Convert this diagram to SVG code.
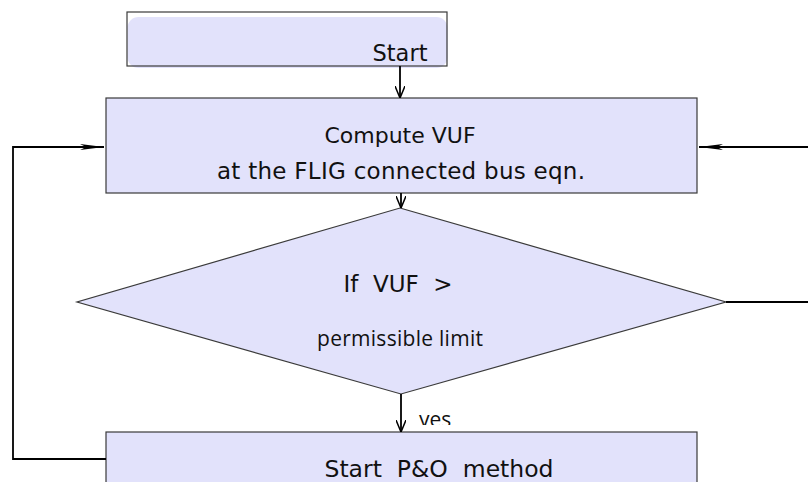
<svg xmlns="http://www.w3.org/2000/svg" width="808" height="482" viewBox="0 0 808 482">
<defs>
<style>
.box{fill:#e2e2fb;stroke:#3a3a3a;stroke-width:1.2}
.t{font-family:"DejaVu Sans",sans-serif;font-size:23px;fill:#111;text-anchor:middle}
.t2{font-family:"Open Sans","Liberation Sans",sans-serif;font-size:21px;fill:#111;text-anchor:middle}
.c{fill:none;stroke:#000;stroke-width:1.8}
</style>
<marker id="ah" viewBox="0 0 12 10" refX="12" refY="5" markerWidth="12" markerHeight="10" markerUnits="userSpaceOnUse" orient="auto">
<path d="M0,0 L12,5 L0,10" fill="none" stroke="#000" stroke-width="1.5"/>
</marker>
<marker id="ahh" viewBox="0 0 24 8" refX="24" refY="4" markerWidth="24" markerHeight="8" markerUnits="userSpaceOnUse" orient="auto">
<path d="M0,1 L24,4 L0,7 L6,4 Z" fill="#000"/>
</marker>
<clipPath id="yesclip"><rect x="405" y="395" width="80" height="30"/></clipPath>
</defs>
<g id="start">
<rect x="127" y="12" width="320" height="54" fill="#ffffff"/>
<rect x="127.5" y="17" width="320" height="51" rx="11" fill="#e2e2fb"/>
<rect x="127" y="12" width="320" height="54" fill="none" stroke="#3a3a3a" stroke-width="1.2"/>
<text class="t" x="400" y="61" style="font-size:22.5px">Start</text>
</g>
<g id="compute">
<rect class="box" x="106" y="98" width="591" height="95"/>
<text class="t" x="400" y="143" style="font-size:22px">Compute VUF</text>
<text class="t" x="401" y="179" textLength="368">at the FLIG connected bus eqn.</text>
</g>
<g id="decision">
<polygon class="box" points="400,208 726,302 401,394 77,302"/>
<text class="t" x="398" y="292" xml:space="preserve">If  VUF  &gt;</text>
<text class="t2" x="400" y="346" textLength="166">permissible limit</text>
</g>
<g id="po">
<rect class="box" x="106" y="432" width="591" height="60"/>
<text class="t" x="439" y="477" style="font-size:23.5px" xml:space="preserve">Start  P&amp;O  method</text>
</g>
<g id="connectors">
<line class="c" x1="400" y1="66" x2="400" y2="98" marker-end="url(#ah)"/>
<line class="c" x1="401" y1="193" x2="401" y2="208" marker-end="url(#ah)"/>
<line class="c" x1="401" y1="394" x2="401" y2="432" marker-end="url(#ah)"/>
<text class="t2" x="419" y="427" clip-path="url(#yesclip)" style="text-anchor:start;font-size:21px">yes</text>
<polyline class="c" points="106,459 13,459 13,147 104,147" marker-end="url(#ahh)"/>
<line class="c" x1="726" y1="302" x2="808" y2="302"/>
<line class="c" x1="808" y1="147" x2="699" y2="147" marker-end="url(#ahh)"/>
</g>
</svg>
